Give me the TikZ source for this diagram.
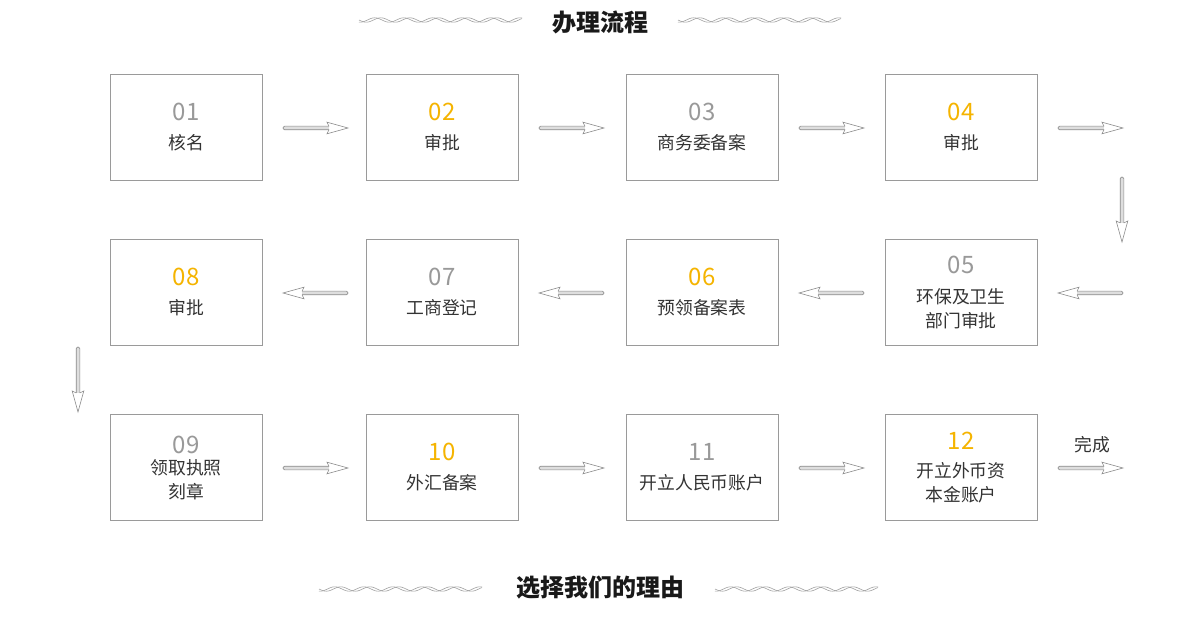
\documentclass[tikz,border=0pt]{standalone}
\usepackage{fontspec}
\setmainfont{Noto Sans CJK SC}
\definecolor{numgray}{HTML}{999999}
\definecolor{numyel}{HTML}{F5B400}
\definecolor{boxgray}{HTML}{9A9A9A}
\definecolor{txt}{HTML}{333333}
\definecolor{arrgray}{HTML}{8C8C8C}
\definecolor{shaftgray}{HTML}{DEDEDE}
\definecolor{wavegray}{HTML}{A0A0A0}
\begin{document}
\begin{tikzpicture}[x=1pt,y=-1pt,
  box/.style={draw=boxgray, line width=0.8pt, minimum width=152pt, minimum height=106pt, inner sep=0pt},
  num/.style={font=\fontsize{24}{24}\selectfont, text=numgray, inner sep=0pt},
  numy/.style={num, text=numyel},
  lab/.style={font=\fontsize{17.8}{24}\selectfont, text=txt, inner sep=0pt, align=center},
  ttl/.style={font=\fontsize{24}{24}\selectfont\bfseries, text=black!90, inner sep=0pt},
  harrow/.pic={
    \fill[shaftgray] (0,-1.8) rectangle (46,1.8);
    \draw[arrgray, line width=0.6pt, rounded corners=1.5pt] (46,-1.8) -- (0,-1.8) -- (0,1.8) -- (46,1.8);
    \draw[arrgray, line width=0.6pt, line join=miter] (46,-1.8) -- (44,-5.8) -- (65,0) -- (44,5.8) -- (46,1.8);
  },
  wavy/.pic={
    \draw[wavegray, line width=0.6pt] plot[domain=0:163, samples=180, smooth] (\x, {2.2*sin(\x*12.4)});
    \draw[wavegray, line width=0.6pt] plot[domain=0:163, samples=180, smooth] (\x, {2.2*sin(\x*12.4+75)});
  }]
\useasboundingbox[fill=white] (0,0) rectangle (1200,628);

% titles
\node[ttl] (t1) at (600,22) {办理流程};
\pic at (359,20) {wavy};
\pic at (678,20) {wavy};
\node[ttl] (t2) at (600,588) {选择我们的理由};
\pic at (319,589) {wavy};
\pic at (715,589) {wavy};

% boxes
\node[box] (b01) at (186,127) {};
\node[box] (b02) at (442,127) {};
\node[box] (b03) at (702,127) {};
\node[box] (b04) at (961,127) {};
\node[box] (b05) at (961,292) {};
\node[box] (b06) at (702,292) {};
\node[box] (b07) at (442,292) {};
\node[box] (b08) at (186,292) {};
\node[box] (b09) at (186,467) {};
\node[box] (b10) at (442,467) {};
\node[box] (b11) at (702,467) {};
\node[box] (b12) at (961,467) {};

% row 1 text
\node[num]  (n01) at (186,112) {01};
\node[lab]  (l01) at (186,143) {核名};
\node[numy] (n02) at (442,112) {02};
\node[lab]  (l02) at (442,143) {审批};
\node[num]  (n03) at (702,112) {03};
\node[lab]  (l03) at (702,143) {商务委备案};
\node[numy] (n04) at (961,112) {04};
\node[lab]  (l04) at (961,143) {审批};

% row 2 text
\node[num]  (n05) at (961,265) {05};
\node[lab]  (l05) at (961,309) {环保及卫生\\部门审批};
\node[numy] (n06) at (702,277) {06};
\node[lab]  (l06) at (702,308) {预领备案表};
\node[num]  (n07) at (442,277) {07};
\node[lab]  (l07) at (442,308) {工商登记};
\node[numy] (n08) at (186,277) {08};
\node[lab]  (l08) at (186,308) {审批};

% row 3 text
\node[num]  (n09) at (186,445) {09};
\node[lab]  (l09) at (186,480) {领取执照\\刻章};
\node[numy] (n10) at (442,452) {10};
\node[lab]  (l10) at (442,483) {外汇备案};
\node[num]  (n11) at (702,452) {11};
\node[lab]  (l11) at (702,483) {开立人民币账户};
\node[numy] (n12) at (961,441) {12};
\node[lab]  (l12) at (961,483) {开立外币资\\本金账户};
\node[lab]  (done) at (1092,445) {完成};

% arrow anchors
\coordinate (a1) at (283,128);
\coordinate (a2) at (539,128);
\coordinate (a3) at (799,128);
\coordinate (a4) at (1058,128);
\coordinate (d1) at (1122,177);
\coordinate (a5) at (1123,293);
\coordinate (a6) at (864,293);
\coordinate (a7) at (604,293);
\coordinate (a8) at (348,293);
\coordinate (d2) at (78,347);
\coordinate (a9) at (283,468);
\coordinate (a10) at (539,468);
\coordinate (a11) at (799,468);
\coordinate (a12) at (1058,468);

\pic at (a1) {harrow};
\pic at (a2) {harrow};
\pic at (a3) {harrow};
\pic at (a4) {harrow};
\pic[rotate=-90] at (d1) {harrow};
\pic[rotate=180] at (a5) {harrow};
\pic[rotate=180] at (a6) {harrow};
\pic[rotate=180] at (a7) {harrow};
\pic[rotate=180] at (a8) {harrow};
\pic[rotate=-90] at (d2) {harrow};
\pic at (a9) {harrow};
\pic at (a10) {harrow};
\pic at (a11) {harrow};
\pic at (a12) {harrow};
\end{tikzpicture}
\end{document}
